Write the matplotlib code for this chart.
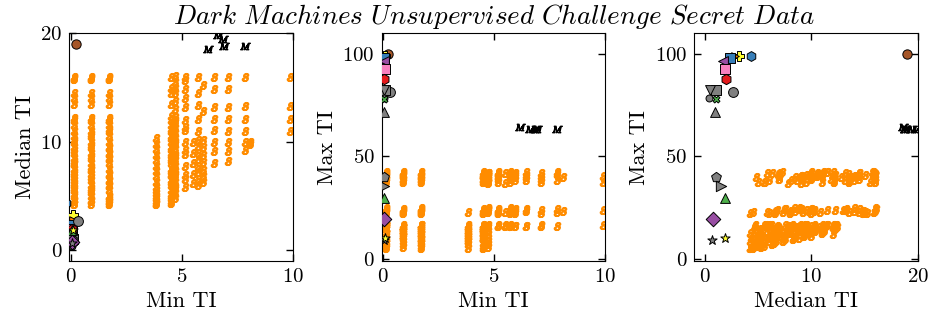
import matplotlib

matplotlib.use("Agg")
import matplotlib.pyplot as plt

# --- orange "s" family: one column per Min TI value, (median, max) pairs per point
s_min_cols = [0.12, 0.88, 1.72, 3.83, 4.5, 4.7, 5.15, 5.5, 5.72, 5.95, 6.45, 7.1, 7.85, 8.1, 9.9]
s_median_cols = [
    [4.2, 4.5, 5.0, 5.5, 6.0, 6.5, 7.0, 7.5, 8.0, 8.5, 9.0, 9.5, 10.0, 10.5, 11.0, 11.5, 12.0, 12.2,
     13.5, 14.0, 14.5, 15.8, 16.0, 15.9, 4.2, 5.2, 6.2, 7.2, 8.2, 9.2, 10.2, 4.6, 6.7, 5.7, 7.9],
    [4.2, 4.5, 5.0, 5.5, 6.0, 6.5, 7.0, 7.5, 8.0, 8.5, 9.0, 9.5, 10.0, 10.5, 11.0, 11.5, 12.0, 12.2,
     13.5, 14.0, 14.5, 15.8, 16.0, 15.9, 4.6, 5.7, 6.7, 7.7, 8.7, 9.7, 10.7, 5.4, 7.4],
    [4.2, 4.5, 5.0, 5.5, 6.0, 6.5, 7.0, 7.5, 8.0, 8.5, 9.0, 9.5, 10.0, 10.5, 11.0, 11.5, 12.0, 12.2,
     13.5, 14.0, 14.5, 15.8, 16.0, 15.9, 4.4, 4.9, 5.9, 6.4, 8.4, 9.4, 11.2, 12.0, 4.7, 6.9, 8.9],
    [4.2, 4.3, 4.5, 4.8, 5.0, 5.3, 5.5, 5.8, 6.3, 6.8, 7.3, 7.8, 8.3, 8.8, 9.3, 9.8, 10.3],
    [4.3, 4.5, 4.8, 5.0, 5.5, 6.0, 6.5, 7.0, 7.5, 8.0, 8.5, 9.0, 9.5, 10.0, 10.5, 11.0, 11.5, 12.0,
     13.5, 14.5, 15.0, 16.0, 5.2, 6.3, 7.3, 8.3, 9.3, 10.3, 11.2, 12.4, 6.9, 8.8],
    [4.8, 5.3, 5.8, 6.3, 6.8, 7.3, 7.8, 8.3, 8.8, 9.3, 9.8, 10.3, 10.8, 11.3, 11.8, 12.3, 13.0, 14.5,
     15.5, 16.1, 5.6, 7.0, 8.6, 10.0, 12.0, 13.8, 15.0],
    [16.0, 14.9, 14.0, 13.2, 12.0, 11.1, 10.0, 8.9, 7.8, 6.9, 5.8, 15.7, 11.4, 9.2, 6.6],
    [10.0, 9.0, 8.0, 7.0, 6.2],
    [16.0, 14.5, 13.4, 12.1, 11.0, 10.2, 9.6, 9.0, 8.4, 7.8, 7.2, 6.6, 6.0],
    [10.2, 9.5, 8.8, 8.1, 7.4, 6.8, 6.3, 15.2, 12.8],
    [16.0, 14.9, 13.2, 12.1, 11.1, 10.0, 9.1, 8.0],
    [16.0, 14.9, 13.2, 12.1, 11.0, 10.0, 9.1, 8.2],
    [16.0, 13.3, 12.1, 11.0, 10.0, 9.2],
    [10.0, 9.8],
    [16.0, 13.3, 12.1, 11.0],
]
s_max_cols = [
    [5.4, 6.3, 7.9, 9.5, 11.1, 12.7, 14.5, 16.3, 22.2, 23.4, 24.4, 37.5, 39, 40.5, 41.6, 42.3, 15.5, 24,
     39.8, 24.6, 42, 38.2, 41, 22.8, 12.7, 11.9, 14.5, 12.7, 16.3, 15.5, 16.3, 7.9, 8.7, 16.3, 15.5],
    [22.2, 5.6, 7.1, 37.5, 8.7, 10.3, 39, 11.9, 13.5, 15.5, 40.5, 24, 11.1, 41.6, 12.7, 16.3, 42.3, 14.5,
     22.8, 38.2, 24.4, 41, 23.4, 42, 15.5, 13.5, 15.5, 15.5, 13.5, 14.5, 15.5, 11.1, 11.1],
    [5.2, 22.8, 6.3, 7.9, 38.2, 9.5, 11.1, 24.4, 12.7, 39.8, 14.5, 16.3, 22.2, 42, 13.5, 24, 11.9, 41,
     37.5, 23.4, 39, 42.3, 24.6, 40.5, 7.9, 9.5, 10.3, 8.7, 11.9, 13.5, 14.5, 15.5, 16.3, 15.5, 16.3],
    [8.7, 5.2, 11.1, 7.1, 13.5, 8.7, 16.3, 15.5, 10.3, 11.9, 22.8, 13.5, 9.5, 15.5, 11.1, 12.7, 14.5],
    [10.3, 5.4, 14.5, 37.5, 6.3, 22.2, 7.9, 39, 9.5, 23.4, 11.1, 40.5, 12.7, 24.4, 41.6, 14.5, 42.3, 16.3,
     38.2, 40.5, 22.8, 41, 14.5, 12.7, 10.3, 15.5, 16.3, 15.5, 13.5, 15.5, 11.9, 10.3],
    [39.8, 5.6, 42, 7.1, 24, 8.7, 37.2, 10.3, 24.6, 11.9, 41, 13.5, 22.8, 15.5, 39, 16.3, 24, 42,
     37.5, 24.4, 37.5, 40.5, 38.2, 42, 41, 39.8, 41],
    [37.5, 22.2, 40.5, 24, 16.0, 42, 39, 24.4, 15.8, 41.6, 22.8, 42.3, 16.3, 39.8, 23.4],
    [16.0, 37.2, 22.8, 42, 16.3],
    [39, 22.8, 41.6, 16.0, 37.5, 24, 15.8, 40.5, 24.6, 16.0, 42.3, 22.2, 16.3],
    [23.4, 41, 16.0, 38.2, 24.4, 15.8, 42, 22.2, 39.8],
    [41, 23.4, 38.2, 16.0, 42.3, 24.4, 39.8, 16.2],
    [37.5, 22.2, 42, 16.3, 40.5, 24, 39, 16.0],
    [41.6, 24.4, 38.2, 16.0, 42.3, 22.8],
    [39.8, 23.4],
    [40.5, 24, 37.5, 16.3],
]

# --- black "M" family
m_min = [6.17, 6.62, 6.85, 6.92, 7.83]
m_median = [18.6, 19.85, 19.5, 18.8, 18.8]
m_max = [64.5, 63.5, 63.4, 63.3, 63.4]

# --- individual models
model_min = [0.22, -0.25, 0.10, 0.08, 0.05, 0.03, 0.06, 0.05, 0.30, 0.08,
             0.02, 0.02, 0.05, 0.02, 0.05, 0.04, 0.02, 0.05, 0.03, 0.10]
model_median = [19.0, 4.33, 3.23, 2.8, 2.3, 1.66, 1.9, 1.97, 2.66, 1.03,
                0.43, 0.34, 1.0, 0.94, 1.03, 1.5, 1.88, 0.78, 0.66, 1.85]
model_max = [99.8, 98.8, 98.8, 99.2, 97.8, 96.5, 92.5, 87.5, 81.5, 82.5,
             82.5, 78.5, 78.0, 71.5, 40.0, 35.5, 29.5, 19.5, 9.0, 10.0]
model_color = ["#a65628", "#377eb8", "#ffff33", "#ff7f00", "#377eb8", "#984ea3", "#f781bf",
               "#e41a1c", "gray", "gray", "gray", "gray", "#4daf4a", "gray", "gray",
               "gray", "#4daf4a", "#984ea3", "gray", "#ffff33"]
model_marker = ["o", "h", "P", ">", "s", "<", "s", "h", "o", "s",
                "v", "o", "X", "^", "p", ">", "^", "D", "*", "*"]
model_size = [45, 50, 60, 30, 50, 50, 60, 55, 50, 55, 50, 25, 25, 50, 55, 55, 50, 55, 50, 50]

plt.rcParams["font.family"] = "serif"
plt.rcParams["font.serif"] = ["cmr10"]
plt.rcParams["mathtext.fontset"] = "cm"
plt.rcParams["axes.formatter.use_mathtext"] = True

s_min = [m for m, meds in zip(s_min_cols, s_median_cols) for _ in meds]
s_median = [v for meds in s_median_cols for v in meds]
s_max = [v for maxs in s_max_cols for v in maxs]

series = {
    "Min TI": (s_min, m_min, model_min),
    "Median TI": (s_median, m_median, model_median),
    "Max TI": (s_max, m_max, model_max),
}
panels = [
    ("Min TI", "Median TI", (-0.08, 10), (-1, 20), [0, 5, 10], [0, 10, 20]),
    ("Min TI", "Max TI", (-0.06, 10), (-1, 110), [0, 5, 10], [0, 50, 100]),
    ("Median TI", "Max TI", (-1, 20), (-1, 110), [0, 10, 20], [0, 50, 100]),
]

fig, axes = plt.subplots(1, 3, figsize=(9.33, 3.24), dpi=100)
fig.subplots_adjust(left=0.0743, right=0.9836, bottom=0.195, top=0.897, wspace=0.4)

for ax, (xk, yk, xlim, ylim, xt, yt) in zip(axes, panels):
    xs, xm, xmod = series[xk]
    ys, ym, ymod = series[yk]
    ax.scatter(xs, ys, marker=r"$s$", s=30, color="#ff8c00", linewidths=1.1, zorder=2)
    ax.scatter(xm, ym, marker=r"$M$", s=50, color="black", linewidths=0.8, zorder=3)
    for i in range(len(xmod)):
        ax.scatter(xmod[i], ymod[i], marker=model_marker[i], s=model_size[i],
                   color=model_color[i], edgecolors="black", linewidths=0.7, zorder=4)
    ax.set_xlim(*xlim)
    ax.set_ylim(*ylim)
    ax.set_xticks(xt)
    ax.set_yticks(yt)
    ax.set_xlabel(xk, fontsize=16)
    ax.set_ylabel(yk, fontsize=16)
    ax.tick_params(direction="in", top=True, right=True, length=5, width=1,
                   labelsize=15, pad=5)

fig.suptitle(r"$\mathit{Dark\ Machines\ Unsupervised\ Challenge\ Secret\ Data}$",
             fontsize=19.5, x=0.529, y=0.995)

fig.savefig("out.png", dpi=100)
